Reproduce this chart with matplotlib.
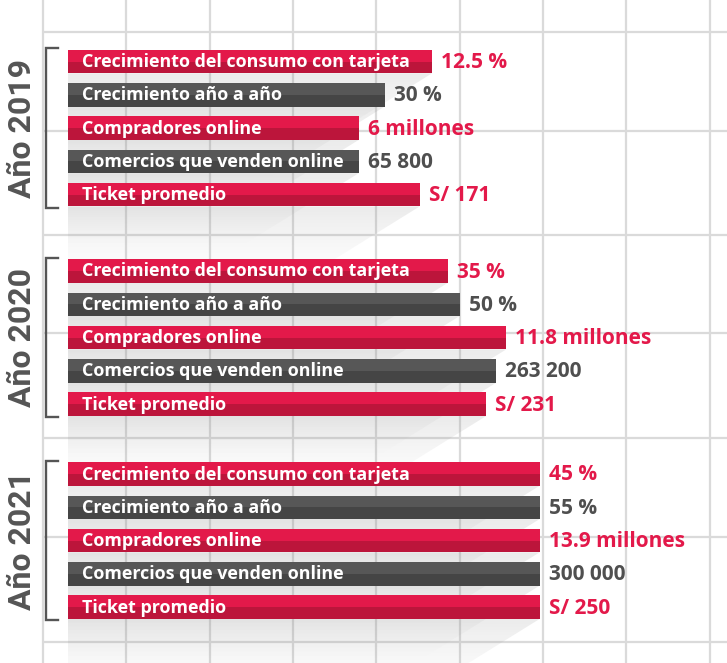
import matplotlib
matplotlib.use("Agg")
import matplotlib.pyplot as plt
import numpy as np
from matplotlib.patches import Polygon

plt.rcParams['font.family'] = ['Roboto', 'DejaVu Sans']

# ---------------- data ----------------
years = ["Año 2019", "Año 2020", "Año 2021"]
categories = ["Crecimiento del consumo con tarjeta", "Crecimiento año a año",
              "Compradores online", "Comercios que venden online", "Ticket promedio"]
value_labels_2019 = ["12.5 %", "30 %", "6 millones", "65 800", "S/ 171"]
value_labels_2020 = ["35 %", "50 %", "11.8 millones", "263 200", "S/ 231"]
value_labels_2021 = ["45 %", "55 %", "13.9 millones", "300 000", "S/ 250"]
# bar end positions, in grid units (as drawn in the infographic)
bar_end_2019 = [4.67, 4.10, 3.79, 3.79, 4.52]
bar_end_2020 = [4.86, 5.00, 5.56, 5.44, 5.32]
bar_end_2021 = [5.96, 5.96, 5.96, 5.96, 5.96]
bar_start = 0.30

value_labels = [value_labels_2019, value_labels_2020, value_labels_2021]
bar_ends = [bar_end_2019, bar_end_2020, bar_end_2021]

# ---------------- style ----------------
RED_TOP, RED_BOT = "#e3194a", "#bc153b"
GRAY_TOP, GRAY_BOT = "#575757", "#454545"
RED_TXT, GRAY_TXT = "#e3194a", "#4f4f4f"
GRID = "#dadada"
PX = 83.33  # pixels per grid unit (x)
LABEL_FONT = ['Open Sans', 'DejaVu Sans']

W, H = 727, 663
fig = plt.figure(figsize=(W / 100, H / 100), dpi=100)
ax = fig.add_axes([0, 0, 1, 1])
ax.axis('off')

xmin, xmax = -43 / PX, (W - 43) / PX

# grid
for gx in range(0, 9):
    ax.plot([gx, gx], [0, H], color=GRID, lw=1.6, zorder=1, solid_capstyle='butt')
for gy in [32, 131, 235, 333, 438, 537, 642]:
    ax.plot([0, xmax], [gy, gy], color=GRID, lw=1.6, zorder=1, solid_capstyle='butt')

group_top = [61.5, 271, 474]
row_step = 33.3
bar_h = 23.5

for g in range(3):
    ys = [group_top[g] + i * row_step for i in range(5)]
    for i, y in enumerate(ys):
        x1 = bar_ends[g][i]
        red = (i % 2 == 0)
        top_c, bot_c = (RED_TOP, RED_BOT) if red else (GRAY_TOP, GRAY_BOT)
        # shadow
        yb = y + bar_h / 2
        dy = 75
        dx = dy / 0.62 / PX
        poly = Polygon([(bar_start, yb), (x1, yb), (x1 - dx, yb + dy), (bar_start, yb + dy)],
                       closed=True, facecolor='none', edgecolor='none')
        ax.add_patch(poly)
        n = 64
        alpha = np.linspace(0.26, 0.0, n) ** 1.3
        img = np.zeros((n, 2, 4))
        img[..., :3] = 0.55
        img[..., 3] = alpha[:, None]
        im = ax.imshow(img, extent=(bar_start, x1, yb + dy, yb), origin='upper',
                       aspect='auto', zorder=2, interpolation='bilinear')
        im.set_clip_path(poly)
        # two-tone bar
        ax.barh(y - bar_h / 4, x1 - bar_start, left=bar_start, height=bar_h / 2,
                color=top_c, zorder=3, linewidth=0)
        ax.barh(y + bar_h / 4, x1 - bar_start, left=bar_start, height=bar_h / 2,
                color=bot_c, zorder=3, linewidth=0)
        # category label
        ax.text(bar_start + 14 / PX, y + 0.5, categories[i], color='white', fontsize=12.9,
                fontweight='bold', va='center', ha='left', zorder=4, family=LABEL_FONT)
        # value label
        ax.text(x1 + 9 / PX, y + 1, value_labels[g][i], color=RED_TXT if red else GRAY_TXT,
                fontsize=15.0, fontweight='bold', va='center', ha='left', zorder=4,
                family=LABEL_FONT)
    # bracket
    ytop = ys[0] - bar_h / 2 - 1.5
    ybot = ys[-1] + bar_h / 2 + 1.5
    bx, bt = 3 / PX, 15 / PX
    ax.plot([bt, bx, bx, bt], [ytop, ytop, ybot, ybot], color="#555555", lw=1.7,
            zorder=4, solid_joinstyle='miter')
    # year label
    ax.text(-21 / PX, (ytop + ybot) / 2, years[g], rotation=90, color="#555555",
            fontsize=23, fontweight='bold', va='center', ha='center', zorder=4)

ax.set_xlim(xmin, xmax)
ax.set_ylim(H, 0)
fig.savefig("out.png", dpi=100, facecolor='white')
